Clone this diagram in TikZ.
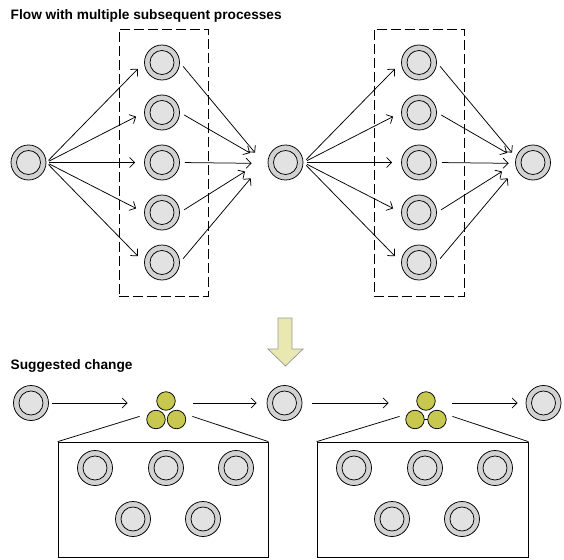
\documentclass[tikz,border=0pt]{standalone}
\usepackage{fontspec}
\setmainfont{Liberation Sans}
\usetikzlibrary{arrows.meta}

\definecolor{ringgray}{HTML}{D2D2D2}
\definecolor{coregray}{HTML}{E2E2E2}
\definecolor{subyellow}{HTML}{C8C850}
\definecolor{hintyellow}{HTML}{E8E8B0}
\definecolor{hintedge}{HTML}{9A9A9A}

\tikzset{
    proc/.style = {circle, draw, fill = ringgray, minimum size = 35pt, inner sep = 0pt,
                   path picture = {\draw [fill = coregray]
                                   (path picture bounding box.center) circle (12pt);}},
    sub/.style = {circle, draw, fill = subyellow, minimum size = 18.5pt, inner sep = 0pt},
    flow/.style = {-{Straight Barb[length = 5pt, width = 10pt]}},
    heading/.style = {anchor = base west, font = \bfseries\fontsize{13.7}{16}\selectfont}
}

\begin{document}
\begin{tikzpicture}[x = 1pt, y = -1pt, line width = 0.75pt]
    \useasboundingbox (0, 0) rectangle (564, 559);

    \node [heading] (title1) at (7, 20) {Flow with multiple subsequent processes};

    \node [draw, dash pattern = on 10pt off 4pt, minimum width = 89pt,
           minimum height = 267pt] (group1) at (163.5, 162.5) {};
    \node [draw, dash pattern = on 10pt off 4pt, minimum width = 90pt,
           minimum height = 267pt] (group2) at (419, 162.5) {};

    \node [proc] (src1) at (28.5, 162.5) {};
    \node [proc] (src2) at (285.5, 162.5) {};
    \node [proc] (sink) at (533, 162.5) {};

    \foreach \i/\y/\dx/\ty in {1/62.5/93/152.7, 2/112.5/88/153, 3/162.5/89.7/163.3,
                              4/212.5/83/171.5, 5/262.5/88.7/178.3} {
        \node [proc] (stepA\i) at (162, \y) {};
        \node [proc] (stepB\i) at (419, \y) {};
        \coordinate (tipA\i) at (162 + \dx, \ty); % arrow ends before src2
        \coordinate (tipB\i) at (419 + \dx, \ty); % arrow ends before sink
    }

    \foreach \i in {1, ..., 5} {
        \draw [flow, shorten < = 3pt, shorten > = 9pt] (src1.east) -- (stepA\i.west); % fan out
        \draw [flow, shorten < = 5pt] (stepA\i.east) -- (tipA\i); % merge
        \draw [flow, shorten < = 4pt, shorten > = 9pt] (src2.east) -- (stepB\i.west); % fan out
        \draw [flow, shorten < = 5pt] (stepB\i.east) -- (tipB\i); % merge
    }

    \draw [draw = hintedge, fill = hintyellow] (278, 318) -- (292, 318) -- (292, 349)
          -- (303, 349) -- (285.5, 366) -- (268, 349) -- (278, 349) -- cycle;

    \node [heading] (title2) at (7, 369) {Suggested change};

    \node [proc] (node1) at (31, 403) {};
    \node [proc] (node2) at (284.5, 403) {};
    \node [proc] (node3) at (543.5, 403) {};

    % clusters of parallel processes
    \node [minimum width = 52pt, minimum height = 26pt] (pack1) at (166, 403) {};
    \node [sub] (pack1top) at (166, 401) {};
    \node [sub] (pack1left) at (156, 419.5) {};
    \node [sub] (pack1right) at (176.5, 419.5) {};

    \node [minimum width = 52pt, minimum height = 26pt] (pack2) at (426, 403) {};
    \draw (415, 419.5) -- (437, 419.5);
    \node [sub] (pack2top) at (426, 401) {};
    \node [sub] (pack2left) at (415, 419.5) {};
    \node [sub] (pack2right) at (437, 419.5) {};

    \draw [flow, shorten < = 3pt, shorten > = 12pt] (node1) -- (pack1);
    \draw [flow, shorten < = 1pt, shorten > = 10pt] (pack1) -- (node2);
    \draw [flow, shorten < = 10pt, shorten > = 11pt] (node2) -- (pack2);
    \draw [flow, shorten > = 8pt] (pack2) -- (node3);

    \node [draw, minimum width = 210pt, minimum height = 115pt] (box1) at (163, 499.5) {};
    \node [draw, minimum width = 211pt, minimum height = 115pt] (box2) at (422.5, 499.5) {};

    \draw (pack1.south west) -- (box1.north west);
    \draw (pack1.south east) -- (box1.north east);
    \draw (pack2.south west) -- (box2.north west);
    \draw (pack2.south east) -- (box2.north east);

    \foreach \x/\y [count = \n] in {95/468, 166/468, 236/468, 133/519, 203/519} {
        \node [proc] (inner1\n) at (\x, \y) {};
        \node [proc] (inner2\n) at (\x + 259, \y) {};
    }
\end{tikzpicture}
\end{document}
